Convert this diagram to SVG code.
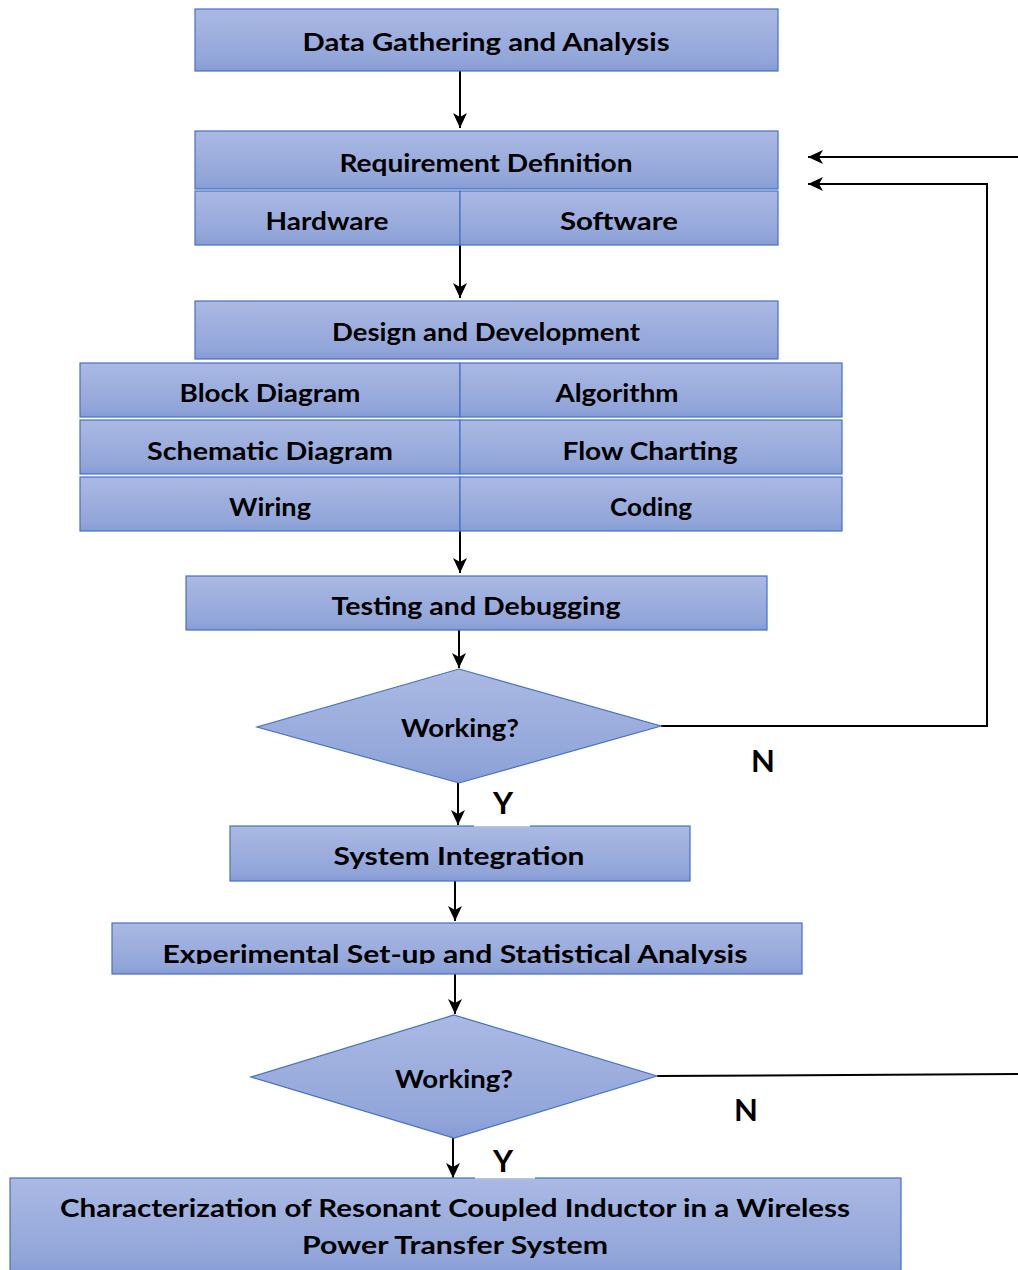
<svg xmlns="http://www.w3.org/2000/svg" width="1018" height="1270" viewBox="0 0 1018 1270">
<style>
.box{fill:url(#g);stroke:#4472c4;stroke-width:1.2}
.t{font-family:"Comic Sans MS","Lato","DejaVu Sans",sans-serif;font-weight:bold;font-size:24px;fill:#000;text-anchor:middle}
.lb{font-size:31px}
.c{fill:none;stroke:#000;stroke-width:2}
.a{marker-end:url(#ah)}
</style>
<defs>
<linearGradient id="g" x1="0" y1="0" x2="0" y2="1">
<stop offset="0" stop-color="#abb9e3"/>
<stop offset="0.85" stop-color="#91a5d9"/>
<stop offset="1" stop-color="#859bd5"/>
</linearGradient>
<marker id="ah" markerUnits="userSpaceOnUse" markerWidth="16" markerHeight="14" refX="15" refY="7" orient="auto">
<path d="M0,0 L15,7 L0,14 L4,7 z" fill="#000"/>
</marker>
<clipPath id="clipE"><rect x="112" y="923" width="690" height="41"/></clipPath>
</defs>

<g id="connectors">
<line class="c a" x1="460" y1="71" x2="460" y2="128"/>
<line class="c a" x1="460" y1="245" x2="460" y2="298"/>
<line class="c a" x1="460" y1="531" x2="460" y2="573"/>
<line class="c a" x1="459" y1="630" x2="459" y2="668"/>
<line class="c a" x1="458" y1="783" x2="458" y2="825"/>
<line class="c a" x1="455" y1="881" x2="455" y2="921"/>
<line class="c a" x1="455" y1="974" x2="455" y2="1014"/>
<line class="c a" x1="453" y1="1138" x2="453" y2="1178"/>
<polyline class="c a" points="661,726 987,726 987,184 808,184"/>
<line class="c a" x1="1018" y1="157" x2="808" y2="157"/>
<line class="c" x1="657" y1="1076" x2="1018" y2="1074"/>
</g>

<g id="n-data">
<rect class="box" x="195" y="9" width="583" height="62"/>
<text class="t" x="486" y="51" textLength="367" lengthAdjust="spacingAndGlyphs">Data Gathering and Analysis</text>
</g>

<g id="n-req">
<rect class="box" x="195" y="131" width="583" height="58"/>
<text class="t" x="486" y="172" textLength="293" lengthAdjust="spacingAndGlyphs">Requirement Definition</text>
</g>
<g id="n-hw">
<rect class="box" x="195" y="191" width="265" height="54"/>
<text class="t" x="327" y="230" textLength="123" lengthAdjust="spacingAndGlyphs">Hardware</text>
</g>
<g id="n-sw">
<rect class="box" x="460" y="191" width="318" height="54"/>
<text class="t" x="619" y="230" textLength="118" lengthAdjust="spacingAndGlyphs">Software</text>
</g>

<g id="n-design">
<rect class="box" x="195" y="301" width="583" height="58"/>
<text class="t" x="486" y="341" textLength="308" lengthAdjust="spacingAndGlyphs">Design and Development</text>
</g>
<g id="n-block">
<rect class="box" x="80" y="363" width="380" height="54"/>
<text class="t" x="270" y="402" textLength="181" lengthAdjust="spacingAndGlyphs">Block Diagram</text>
</g>
<g id="n-algo">
<rect class="box" x="460" y="363" width="382" height="54"/>
<text class="t" x="617" y="402" textLength="123" lengthAdjust="spacingAndGlyphs">Algorithm</text>
</g>
<g id="n-schem">
<rect class="box" x="80" y="420" width="380" height="54"/>
<text class="t" x="270" y="460" textLength="246" lengthAdjust="spacingAndGlyphs">Schematic Diagram</text>
</g>
<g id="n-flow">
<rect class="box" x="460" y="420" width="382" height="54"/>
<text class="t" x="650" y="460" textLength="175" lengthAdjust="spacingAndGlyphs">Flow Charting</text>
</g>
<g id="n-wiring">
<rect class="box" x="80" y="477" width="380" height="54"/>
<text class="t" x="270" y="516" textLength="82" lengthAdjust="spacingAndGlyphs">Wiring</text>
</g>
<g id="n-coding">
<rect class="box" x="460" y="477" width="382" height="54"/>
<text class="t" x="651" y="516" textLength="82" lengthAdjust="spacingAndGlyphs">Coding</text>
</g>

<g id="n-test">
<rect class="box" x="186" y="576" width="581" height="54"/>
<text class="t" x="476" y="615" textLength="289" lengthAdjust="spacingAndGlyphs">Testing and Debugging</text>
</g>

<g id="n-work1">
<polygon class="box" points="459,669 661,726 459,783 257,727"/>
<text class="t" x="460" y="737" textLength="118" lengthAdjust="spacingAndGlyphs">Working?</text>
</g>
<g id="l-n1"><text class="t lb" x="763" y="772">N</text></g>

<g id="n-sys">
<rect class="box" x="230" y="826" width="460" height="55"/>
<text class="t" x="459" y="865" textLength="251" lengthAdjust="spacingAndGlyphs">System Integration</text>
</g>
<g id="l-y1">
<rect x="474" y="788" width="56" height="38.5" fill="#fff"/>
<text class="t lb" x="503" y="814">Y</text>
</g>

<g id="n-exp">
<rect class="box" x="112" y="923" width="690" height="51"/>
<text class="t" x="455" y="963" textLength="585" lengthAdjust="spacingAndGlyphs" clip-path="url(#clipE)">Experimental Set-up and Statistical Analysis</text>
</g>

<g id="n-work2">
<polygon class="box" points="454,1015 657,1076 454,1138 251,1077"/>
<text class="t" x="454" y="1088" textLength="118" lengthAdjust="spacingAndGlyphs">Working?</text>
</g>
<g id="l-n2"><text class="t lb" x="746" y="1121">N</text></g>

<g id="n-final">
<rect class="box" x="10" y="1178" width="891" height="95"/>
<text class="t" x="455" y="1217" textLength="790" lengthAdjust="spacingAndGlyphs">Characterization of Resonant Coupled Inductor in a Wireless</text>
<text class="t" x="455" y="1254" textLength="306" lengthAdjust="spacingAndGlyphs">Power Transfer System</text>
</g>
<g id="l-y2">
<rect x="475" y="1146" width="60" height="32.5" fill="#fff"/>
<text class="t lb" x="503" y="1172">Y</text>
</g>
</svg>
